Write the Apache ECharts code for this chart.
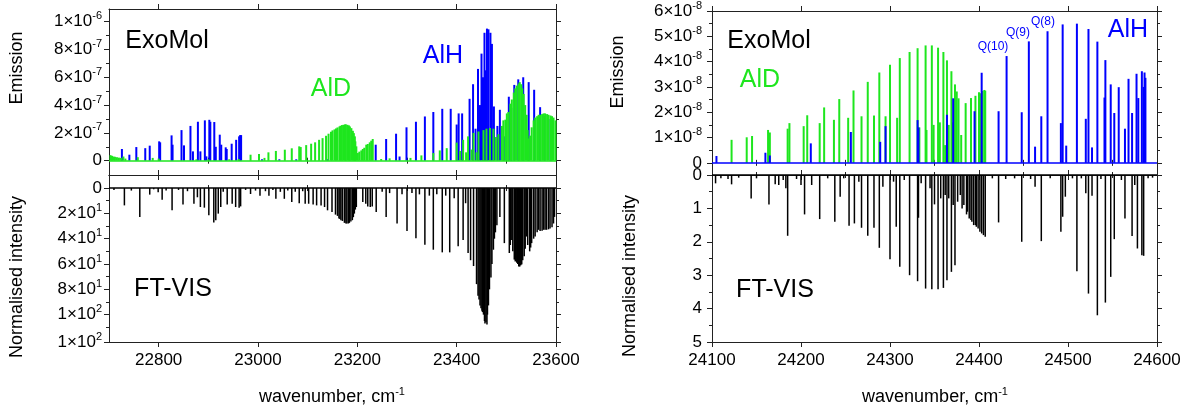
<!DOCTYPE html>
<html><head><meta charset="utf-8">
<script src="https://cdn.jsdelivr.net/npm/echarts@6/dist/echarts.min.js"></script>
<style>html,body{margin:0;padding:0;background:#fff}#c{width:1199px;height:415px}</style>
</head><body><div id="c"></div>
<script>
// ---------- DATA (wavenumber, intensity) ----------
const leftAlH = [[22726,8.4e-8],[22741,4.3e-8],[22755,9.8e-8],[22773,9.0e-8],[22782,1.08e-7],[22801,1.39e-7],[22803,1.32e-7],[22826,1.82e-7],[22828,1.15e-7],[22846,2.2e-7],[22851,1.1e-7],[22864,2.5e-7],[22869,6.7e-8],[22879,2.8e-7],[22884,6.7e-8],[22893,2.9e-7],[22896,3.1e-8],[22902,2.94e-7],[22904,2.8e-7],[22912,2.78e-7],[22915,1.0e-7],[22923,1.87e-7],[22926,1.15e-7],[22935,9.6e-8],[22937,8.4e-8],[22947,1.22e-7],[22956,1.5e-7],[22962,1.75e-7],[22964,1.84e-7],[22966,1.84e-7],[23008,1e-8],[23043,1e-8],[23077,1e-8],[23140,1e-8],[23237,1.15e-7],[23258,1.56e-7],[23278,1.94e-7],[23285,3e-8],[23299,2.4e-7],[23318,2.8e-7],[23336,3.18e-7],[23353,3.5e-7],[23371,3.73e-7],[23388,3.73e-7],[23400,2.6e-7],[23404,3.4e-7],[23411,3.4e-7],[23426,4.45e-7],[23433,5.5e-7],[23438,2.3e-7],[23443,6.6e-7],[23447,4.0e-7],[23450,7.7e-7],[23453,6.0e-7],[23456,9.2e-7],[23458,6.5e-7],[23461,9.5e-7],[23464,9.45e-7],[23468,9.2e-7],[23471,8.4e-7],[23475,3.9e-7],[23482,2.5e-7],[23487,3.66e-7],[23495,1.75e-7],[23505,4.6e-7],[23510,3.8e-7],[23516,5.45e-7],[23524,5.85e-7],[23534,6.0e-7],[23545,5.65e-7],[23556,5.1e-7],[23568,3.85e-7],[23577,3.2e-7],[23589,3.0e-7]];
const leftAlD = [[22703,4e-8],[22706,3.5e-8],[22709,3e-8],[22712,2.8e-8],[22716,2.5e-8],[22720,2.2e-8],[22724,2e-8],[22729,3e-8],[22733,1.5e-8],[22758,2.5e-8],[22788,2e-8],[22800,1.5e-8],[22876,1e-8],[22900,1e-8],[22942,1e-8],[22961,1.2e-8],[22985,4.3e-8],[23002,4.8e-8],[23013,2e-8],[23021,6e-8],[23036,7e-8],[23054,7.9e-8],[23068,8.9e-8],[23083,1.03e-7],[23086,9.8e-8],[23097,1.12e-7],[23107,1.22e-7],[23115,1.32e-7],[23123,1.5e-7],[23130,1.62e-7],[23137,1.79e-7],[23142,1.94e-7],[23147,2.08e-7],[23150,2.18e-7],[23154,2.25e-7],[23157,2.32e-7],[23160,2.39e-7],[23164,2.46e-7],[23166,2.51e-7],[23169,2.56e-7],[23172,2.58e-7],[23175,2.61e-7],[23177,2.61e-7],[23180,2.58e-7],[23183,2.54e-7],[23185,2.46e-7],[23188,2.34e-7],[23191,2.15e-7],[23193,1.98e-7],[23195,1.75e-7],[23196,1.39e-7],[23198,1.03e-7],[23201,5.5e-8],[23204,6.5e-8],[23208,7.4e-8],[23211,8.4e-8],[23214,9.3e-8],[23218,1.15e-7],[23221,1.2e-7],[23225,1.32e-7],[23228,1.44e-7],[23231,1.56e-7],[23248,1.2e-8],[23265,1.7e-8],[23307,2e-8],[23329,3.8e-8],[23353,5.5e-8],[23366,7.4e-8],[23380,9e-8],[23400,1.3e-7],[23407,7e-8],[23413,1.5e-7],[23419,6e-8],[23423,1.75e-7],[23430,8e-8],[23434,2.0e-7],[23440,6e-8],[23444,2.1e-7],[23454,2.2e-7],[23460,2.3e-7],[23467,2.35e-7],[23474,2.3e-7],[23479,1.7e-7],[23484,1.9e-7],[23491,2.5e-7],[23494,2.9e-7],[23498,2.95e-7],[23501,3.4e-7],[23504,3.5e-7],[23508,4.1e-7],[23511,4.4e-7],[23515,4.9e-7],[23518,5.2e-7],[23521,5.4e-7],[23525,5.55e-7],[23527,5.65e-7],[23530,5.5e-7],[23532,5.2e-7],[23535,4.8e-7],[23538,4.0e-7],[23541,3.3e-7],[23543,2.2e-7],[23545,1.6e-7],[23548,1.8e-7],[23551,2.4e-7],[23555,2.9e-7],[23558,3.1e-7],[23562,3.2e-7],[23565,3.3e-7],[23568,3.3e-7],[23572,3.35e-7],[23575,3.4e-7],[23578,3.4e-7],[23582,3.35e-7],[23585,3.3e-7],[23589,3.25e-7],[23592,3.2e-7],[23595,3.1e-7],[23599,2.9e-7]];
const leftFT = [[22710,1.5],[22731,13.7],[22745,2],[22762,22.8],[22782,5.2],[22790,1],[22799,3.4],[22807,9.3],[22815,2],[22827,17.6],[22840,1.5],[22849,13],[22858,2.5],[22871,12.4],[22878,7.3],[22884,15],[22892,15.5],[22901,21.5],[22911,27.2],[22915,25.4],[22920,20.2],[22925,15],[22930,3],[22938,13],[22948,12.4],[22955,15],[22962,15.5],[22965,14.5],[22975,1.5],[22985,4.7],[22995,2],[23004,6],[23015,2.5],[23022,6],[23030,1.5],[23036,8.5],[23045,3],[23053,8.5],[23060,2],[23068,11],[23075,3],[23083,12],[23090,2.5],[23095,12.4],[23102,12.4],[23111,13],[23118,13.7],[23127,13.7],[23134,15],[23140,17.6],[23149,19],[23156,21],[23160,22],[23163,24],[23165,24.5],[23167,25.4],[23170,26],[23174,27.5],[23177,28],[23179,28],[23182,28],[23184,27.5],[23187,26.5],[23190,25.4],[23192,23],[23194,20.2],[23196,17],[23198,15],[23211,11],[23217,12.4],[23221,14.5],[23226,15],[23230,14.5],[23238,19],[23250,3],[23258,22.8],[23265,4],[23280,28],[23290,5],[23300,34],[23310,4],[23318,39.6],[23325,5],[23336,44.8],[23345,6],[23353,48.7],[23360,5],[23371,50.8],[23378,6],[23386,50.8],[23395,8],[23403,46],[23413,41],[23418,12],[23423,51.3],[23428,57],[23434,61.6],[23440,75.9],[23443,85],[23445,88],[23447,92.7],[23449,95],[23451,97],[23452,98],[23454,100],[23456,105],[23457,107],[23459,106],[23461,107.7],[23462,100],[23464,92.7],[23466,80],[23469,70.7],[23471,60],[23474,48.7],[23476,40],[23478,35],[23481,29.3],[23487,22.8],[23496,43.5],[23506,51.3],[23508,45],[23511,41],[23513,50],[23516,56.5],[23518,58],[23521,59],[23523,60],[23525,62],[23527,62],[23529,61],[23531,60.3],[23533,57],[23536,53.9],[23538,48],[23541,38.3],[23543,45],[23547,50],[23549,47],[23551,43.5],[23555,40],[23558,38.3],[23562,35],[23565,33],[23568,34],[23572,33.7],[23575,33],[23578,33],[23581,33],[23585,32.6],[23588,32],[23592,31],[23595,28],[23597,22.8]];
const rightAlD = [[24122,0.91e-8],[24139,1.01e-8],[24145,1.06e-8],[24163,1.3e-8],[24165,1.2e-8],[24185,1.35e-8],[24187,1.57e-8],[24203,1.45e-8],[24207,1.88e-8],[24221,1.57e-8],[24226,2.19e-8],[24237,1.7e-8],[24243,2.52e-8],[24253,1.78e-8],[24259,2.86e-8],[24268,1.84e-8],[24275,3.2e-8],[24282,1.87e-8],[24288,3.57e-8],[24295,1.84e-8],[24300,3.88e-8],[24308,1.78e-8],[24311,4.14e-8],[24322,4.38e-8],[24331,4.53e-8],[24333,1.4e-8],[24340,4.64e-8],[24341,1.3e-8],[24347,4.64e-8],[24349,1.5e-8],[24354,4.55e-8],[24356,1.6e-8],[24360,4.38e-8],[24362,0.7e-8],[24364,4.05e-8],[24366,1.5e-8],[24369,3.62e-8],[24371,1.6e-8],[24373,3.1e-8],[24375,2.82e-8],[24377,2.55e-8],[24380,1.1e-8],[24385,2.36e-8],[24391,2.56e-8],[24396,2.65e-8],[24400,2.79e-8],[24402,2.75e-8],[24404,2.84e-8],[24406,2.88e-8],[24407,2.85e-8]];
const rightAlH = [[24105,0.27e-8],[24160,0.4e-8],[24165,0.29e-8],[24211,0.77e-8],[24256,1.22e-8],[24289,0.83e-8],[24295,1.45e-8],[24331,1.69e-8],[24332,1.4e-8],[24364,1.9e-8],[24371,2.55e-8],[24395,2.04e-8],[24403,3.56e-8],[24422,2.04e-8],[24431,4.22e-8],[24448,2.0e-8],[24456,4.8e-8],[24463,0.64e-8],[24470,1.84e-8],[24477,5.2e-8],[24492,1.57e-8],[24494,5.47e-8],[24498,0.68e-8],[24510,5.5e-8],[24520,1.74e-8],[24523,5.29e-8],[24527,0.61e-8],[24533,4.79e-8],[24541,2.58e-8],[24542,4.06e-8],[24548,3.1e-8],[24552,1.97e-8],[24557,2.99e-8],[24564,1.35e-8],[24568,3.32e-8],[24572,1.97e-8],[24577,3.52e-8],[24579,2.56e-8],[24583,3.62e-8],[24585,3.0e-8],[24586,3.57e-8],[24587,3.36e-8]];
const rightFT = [[24104,0.25],[24110,0.1],[24118,0.12],[24122,0.28],[24130,0.08],[24144,0.7],[24150,0.1],[24164,0.88],[24171,0.28],[24175,0.3],[24180,0.15],[24183,0.4],[24185,1.82],[24195,0.12],[24200,0.3],[24204,1.18],[24212,0.3],[24221,1.32],[24230,0.1],[24238,1.4],[24244,0.65],[24248,0.1],[24254,1.52],[24260,1.45],[24265,0.2],[24268,1.58],[24275,1.82],[24282,1.58],[24288,2.18],[24292,0.35],[24300,2.52],[24304,0.2],[24307,1.55],[24311,2.75],[24316,0.15],[24322,3.0],[24331,3.18],[24332,1.28],[24335,0.25],[24340,3.4],[24345,0.4],[24347,3.42],[24350,0.88],[24354,3.42],[24357,0.7],[24360,3.38],[24362,0.6],[24364,3.15],[24366,0.7],[24369,2.9],[24371,0.9],[24373,2.7],[24376,0.8],[24379,0.6],[24381,1.0],[24383,0.9],[24386,1.18],[24387,1.1],[24389,1.3],[24391,1.35],[24392,1.4],[24394,1.5],[24396,1.5],[24397,1.55],[24399,1.6],[24401,1.7],[24403,1.75],[24405,1.8],[24407,1.85],[24415,0.1],[24422,1.42],[24430,0.12],[24440,0.1],[24448,2.0],[24458,0.12],[24463,0.35],[24470,1.98],[24480,0.1],[24492,1.7],[24494,1.25],[24497,0.65],[24505,0.1],[24510,2.88],[24515,0.1],[24520,0.55],[24523,3.55],[24527,0.62],[24533,4.2],[24537,0.12],[24542,3.82],[24548,3.05],[24552,1.92],[24560,0.15],[24564,1.3],[24572,1.83],[24575,0.3],[24578,2.2],[24583,2.4],[24585,2.42],[24590,0.1],[24595,0.08]];

// ---------- TICKS ----------
const luMajor = [0,2e-7,4e-7,6e-7,8e-7,1e-6];
const luMinor = [1e-7,3e-7,5e-7,7e-7,9e-7];
const llMajor = [0,20,40,60,80,100,121.6];
const llMinor = [10,30,50,70,90,110];
const ruMajor = [0,1e-8,2e-8,3e-8,4e-8,5e-8,6e-8];
const ruMinor = [0.5e-8,1.5e-8,2.5e-8,3.5e-8,4.5e-8,5.5e-8];
const rlMajor = [0,1,2,3,4,5];
const rlMinor = [0.5,1.5,2.5,3.5,4.5];
const lxMajor = [22800,23000,23200,23400,23600];
const lxMinor = [22700,22900,23100,23300,23500];
const rxMajor = [24100,24200,24300,24400,24500,24600];
const rxMinor = [24150,24250,24350,24450,24550];

const F = '"Liberation Sans", Arial, sans-serif';
const AX = '#222';
const BLUE = '#0000ff', GREEN = '#1ee61e';

function sci(v){
  if (Math.abs(v) < 1e-30) return '{b|0}';
  let e = Math.floor(Math.log10(Math.abs(v)) + 1e-9);
  let m = Math.round(v / Math.pow(10, e));
  if (m >= 10) { m = 1; e++; }
  return '{b|' + m + '×10}{s|' + e + '}';
}
const rich = {
  b: {fontSize: 17, fontFamily: F, color: '#000', lineHeight: 22},
  s: {fontSize: 11, fontFamily: F, color: '#000', verticalAlign: 'top', lineHeight: 12}
};

const grids = [
  {left:109, top:9, width:447, height:166},
  {left:109, top:175, width:447, height:167},
  {left:712, top:9, width:445, height:166},
  {left:712, top:175, width:445, height:167}
];

function axisPair(kind, gi, min, max, pos, majors, minors, labelOpt, inverse){
  const main = {
    type:'value', gridIndex: gi, min, max, position: pos, inverse: !!inverse,
    axisLine:{show:true, onZero:false, lineStyle:{color:AX, width:1}},
    axisTick:{show:true, inside:false, length:5, customValues: majors, lineStyle:{color:AX, width:1}},
    axisLabel: labelOpt ? Object.assign({show:true, customValues: majors}, labelOpt) : {show:false},
    splitLine:{show:false}
  };
  const minor = {
    type:'value', gridIndex: gi, min, max, position: pos, inverse: !!inverse,
    axisLine:{show:false},
    axisTick:{show:true, inside:false, length:3, customValues: minors, lineStyle:{color:AX, width:1}},
    axisLabel:{show:false}, splitLine:{show:false}
  };
  return [main, minor];
}

const plain = v => String(Math.round(v));
const xLab = {fontSize:17, fontFamily:F, color:'#000', margin:10, formatter: plain};
const xAxes = [], yAxes = [];
// grid 0: left upper
xAxes.push(...axisPair('x',0,22700,23600,'bottom',lxMajor,lxMinor,null));
xAxes.push(...axisPair('x',0,22700,23600,'top',lxMajor,lxMinor,null));
yAxes.push(...axisPair('y',0,-1.03e-7,1.091e-6,'left',luMajor,luMinor,{formatter:sci, rich, margin:7}));
yAxes.push(...axisPair('y',0,-1.03e-7,1.091e-6,'right',luMajor,luMinor,null));
// grid 1: left lower
xAxes.push(...axisPair('x',1,22700,23600,'bottom',lxMajor,lxMinor,xLab));
xAxes.push(...axisPair('x',1,22700,23600,'top',lxMajor,lxMinor,null));
yAxes.push(...axisPair('y',1,-10.3,121.6,'left',llMajor,llMinor,{formatter:sci, rich, margin:7},true));
yAxes.push(...axisPair('y',1,-10.3,121.6,'right',llMajor,llMinor,null,true));
// grid 2: right upper
xAxes.push(...axisPair('x',2,24100,24600,'bottom',rxMajor,rxMinor,null));
xAxes.push(...axisPair('x',2,24100,24600,'top',rxMajor,rxMinor,null));
yAxes.push(...axisPair('y',2,-0.48e-8,6e-8,'left',ruMajor,ruMinor,{formatter:sci, rich, margin:10}));
yAxes.push(...axisPair('y',2,-0.48e-8,6e-8,'right',ruMajor,ruMinor,null));
// grid 3: right lower
xAxes.push(...axisPair('x',3,24100,24600,'bottom',rxMajor,rxMinor,xLab));
xAxes.push(...axisPair('x',3,24100,24600,'top',rxMajor,rxMinor,null));
yAxes.push(...axisPair('y',3,0,5,'left',rlMajor,rlMinor,{fontSize:17, fontFamily:F, color:'#000', margin:10, formatter: plain},true));
yAxes.push(...axisPair('y',3,0,5,'right',rlMajor,rlMinor,null,true));

function sticks(name, data, gi, color, w, baseColor){
  const s = {
    type:'bar', name, data, xAxisIndex: gi*4, yAxisIndex: gi*4,
    barWidth: w, barGap:'-100%', itemStyle:{color}, silent:true, animation:false
  };
  if (baseColor) s.markLine = {silent:true, symbol:'none', label:{show:false},
    lineStyle:{color:baseColor, width:1.5, type:'solid'}, data:[{yAxis:0}]};
  return s;
}

const series = [
  sticks('AlH', leftAlH, 0, BLUE, 2, null),
  sticks('AlD', leftAlD, 0, GREEN, 2, GREEN),
  sticks('FT-VIS', leftFT, 1, '#000', 1.5, '#000'),
  sticks('AlD', rightAlD, 2, GREEN, 2, null),
  sticks('AlH', rightAlH, 2, BLUE, 2, BLUE),
  sticks('FT-VIS', rightFT, 3, '#000', 1.5, '#000')
];

function txt(x, y, text, size, color, rot){
  const o = {type:'text', x, y, z:100, silent:true,
    style:{text, font: size + 'px ' + F, fill: color, align:'center', verticalAlign:'middle',
      textAlign:'center', textVerticalAlign:'middle'}};
  if (rot) o.rotation = rot;
  return o;
}
function wn(x){
  return {type:'text', x, y:397, z:100, silent:true,
    style:{text:'{a|wavenumber, cm}{s|-1}', align:'center', verticalAlign:'middle',
      rich:{a:{fontSize:18, fontFamily:F, color:'#000', lineHeight:22},
            s:{fontSize:11, fontFamily:F, color:'#000', verticalAlign:'top', lineHeight:12}}}};
}
const graphic = [
  txt(167,41,'ExoMol',25,'#000'), txt(331,89,'AlD',25,GREEN), txt(443,56,'AlH',25,BLUE),
  txt(173,289,'FT-VIS',25,'#000'),
  txt(769,41,'ExoMol',25,'#000'), txt(760,80,'AlD',25,GREEN), txt(1128,30,'AlH',25,BLUE),
  txt(775,290,'FT-VIS',25,'#000'),
  txt(993,47,'Q(10)',12,BLUE), txt(1018,33,'Q(9)',12,BLUE), txt(1043,22,'Q(8)',12,BLUE),
  txt(17,68,'Emission',18,'#000',Math.PI/2), txt(17,277,'Normalised intensity',18,'#000',Math.PI/2),
  txt(618,72,'Emission',18,'#000',Math.PI/2), txt(630,276,'Normalised intensity',18,'#000',Math.PI/2),
  wn(332), wn(935)
];

const chart = echarts.init(document.getElementById('c'), null, {renderer:'canvas'});
chart.setOption({
  animation:false, backgroundColor:'#fff',
  grid: grids, xAxis: xAxes, yAxis: yAxes, series, graphic
});
</script></body></html>
